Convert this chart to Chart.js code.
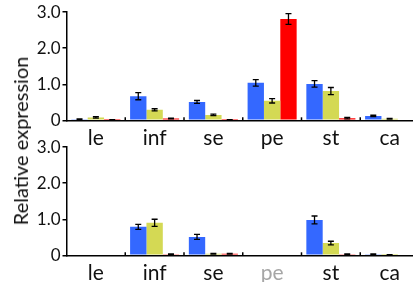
<!DOCTYPE html>
<html>
<head>
<meta charset="utf-8">
<script src="https://cdn.jsdelivr.net/npm/chart.js@4"></script>
<style>
  html, body { margin: 0; padding: 0; background: #fff; overflow: hidden; }
  body { width: 413px; height: 282px; position: relative; }
  .box { position: absolute; left: 0; width: 419px; }
  #topBox { top: 0; height: 160px; }
  #botBox { top: 135px; height: 147px; }
  #ytitle {
    position: absolute; left: 20px; top: 141px;
    transform: translate(-50%, -50%) rotate(-90deg);
    font: 20px Lato, sans-serif; color: #111; white-space: nowrap;
  }
</style>
</head>
<body>
<div class="box" id="topBox"><canvas id="topChart"></canvas></div>
<div class="box" id="botBox"><canvas id="botChart"></canvas></div>
<div id="ytitle">Relative expression</div>
<script>
const categories = ['le', 'inf', 'se', 'pe', 'st', 'ca'];
const yTicks = [0, 1, 2, 3];

// upper panel
const topBlue = [0.03, 0.67, 0.51, 1.04, 1.01, 0.12];
const topBlueErr = [0.01, 0.10, 0.04, 0.09, 0.09, 0.02];
const topYellow = [0.08, 0.29, 0.15, 0.54, 0.81, 0.04];
const topYellowErr = [0.02, 0.03, 0.02, 0.06, 0.10, 0.01];
const topRed = [0.01, 0.05, 0.01, 2.81, 0.06, 0];
const topRedErr = [0.01, 0.01, 0.01, 0.15, 0.02, 0];

// lower panel
const botBlue = [0, 0.79, 0.51, 0, 0.98, 0.03];
const botBlueErr = [0, 0.07, 0.07, 0, 0.11, 0.01];
const botYellow = [0, 0.90, 0.04, 0, 0.34, 0.01];
const botYellowErr = [0, 0.10, 0.01, 0, 0.05, 0.01];
const botRed = [0, 0.03, 0.04, 0, 0.03, 0];
const botRedErr = [0, 0.01, 0.01, 0, 0.01, 0];

const colors = ['#3468ff', '#d4d954', '#ff0000'];
const fontFamily = 'Lato, sans-serif';

// error bars + small inner ticks between categories
const extras = {
  id: 'extras',
  afterDatasetsDraw(chart) {
    const ctx = chart.ctx;
    const y = chart.scales.y;
    const x = chart.scales.x;
    ctx.save();
    ctx.strokeStyle = '#000';
    ctx.lineWidth = 1.3;
    chart.data.datasets.forEach((ds, di) => {
      const meta = chart.getDatasetMeta(di);
      meta.data.forEach((bar, i) => {
        const e = ds.err[i];
        if (!e) return;
        const v = ds.data[i];
        const y1 = y.getPixelForValue(v + e);
        const y2 = y.getPixelForValue(Math.max(0, v - e));
        ctx.beginPath();
        ctx.moveTo(bar.x, y1); ctx.lineTo(bar.x, y2);
        ctx.moveTo(bar.x - 3, y1); ctx.lineTo(bar.x + 3, y1);
        ctx.moveTo(bar.x - 3, y2); ctx.lineTo(bar.x + 3, y2);
        ctx.stroke();
      });
    });
    ctx.lineWidth = 1.5;
    for (let i = 0; i < categories.length - 1; i++) {
      const bx = (x.getPixelForValue(i) + x.getPixelForValue(i + 1)) / 2;
      ctx.beginPath();
      ctx.moveTo(bx, y.bottom);
      ctx.lineTo(bx, y.bottom - 3);
      ctx.stroke();
    }
    ctx.restore();
  }
};

function makeChart(id, blue, blueErr, yellow, yellowErr, red, redErr, xHeight, labelColors) {
  const series = [[blue, blueErr], [yellow, yellowErr], [red, redErr]];
  return new Chart(document.getElementById(id), {
    type: 'bar',
    data: {
      labels: categories,
      datasets: series.map((s, k) => ({
        data: s[0],
        err: s[1],
        backgroundColor: colors[k],
        borderWidth: 0,
        barPercentage: 1,
        categoryPercentage: 0.835
      }))
    },
    options: {
      responsive: true,
      maintainAspectRatio: false,
      animation: false,
      layout: { padding: { top: 12, left: 0, right: 0, bottom: 0 } },
      plugins: { legend: { display: false }, tooltip: { enabled: false } },
      scales: {
        x: {
          grid: { display: false },
          border: { color: '#000', width: 1.5 },
          ticks: {
            padding: -3,
            font: { family: fontFamily, size: 21 },
            color: ctx => labelColors[ctx.index]
          },
          afterFit: s => { s.height = xHeight; }
        },
        y: {
          min: 0,
          max: 3,
          afterBuildTicks: s => { s.ticks = yTicks.map(v => ({ value: v })); },
          grid: { drawOnChartArea: false, drawTicks: true, tickLength: 4, color: '#000', lineWidth: 1.5 },
          border: { color: '#000', width: 1.5 },
          ticks: {
            padding: 2,
            font: { family: fontFamily, size: 17 },
            color: '#111',
            callback: v => v === 0 ? '0' : v.toFixed(1)
          },
          afterFit: s => { s.width = 66.5; }
        }
      }
    },
    plugins: [extras]
  });
}

const dark = categories.map(() => '#111');
const botColors = categories.map(c => c === 'pe' ? '#a6a6a6' : '#111');

makeChart('topChart', topBlue, topBlueErr, topYellow, topYellowErr, topRed, topRedErr, 39.7, dark);
makeChart('botChart', botBlue, botBlueErr, botYellow, botYellowErr, botRed, botRedErr, 26.7, botColors);
</script>
</body>
</html>
